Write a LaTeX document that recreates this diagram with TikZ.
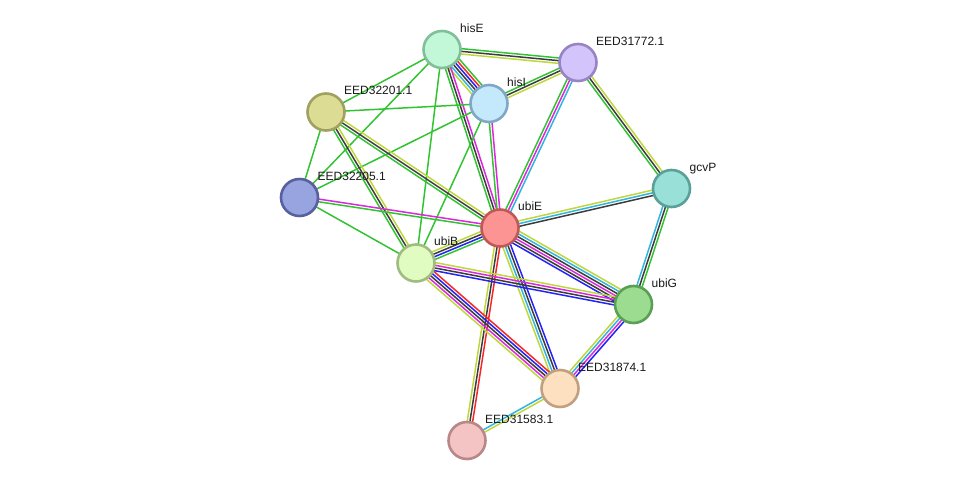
\documentclass[tikz,border=0pt]{standalone}
\usepackage{fontspec}
\setmainfont{Liberation Sans}
\usetikzlibrary{calc}
\pgfdeclarelayer{bg}
\pgfsetlayers{bg,main}
\definecolor{eG}{RGB}{50,195,50}
\definecolor{eR}{RGB}{245,40,40}
\definecolor{eB}{RGB}{35,35,245}
\definecolor{eK}{RGB}{60,60,60}
\definecolor{eM}{RGB}{220,40,220}
\definecolor{eC}{RGB}{50,180,225}
\definecolor{eY}{RGB}{190,215,60}
\definecolor{fHisE}{HTML}{C2F8D8}\definecolor{bHisE}{HTML}{80C098}
\definecolor{fE72}{HTML}{D4C4FC}\definecolor{bE72}{HTML}{9884C4}
\definecolor{fHisI}{HTML}{C4E8FC}\definecolor{bHisI}{HTML}{80A8C4}
\definecolor{fE01}{HTML}{DCDC94}\definecolor{bE01}{HTML}{A0A060}
\definecolor{fGcvP}{HTML}{98E0D8}\definecolor{bGcvP}{HTML}{58A098}
\definecolor{fE05}{HTML}{98A4E0}\definecolor{bE05}{HTML}{5860A0}
\definecolor{fUbiE}{HTML}{FC9494}\definecolor{bUbiE}{HTML}{C05858}
\definecolor{fUbiB}{HTML}{E0FCC0}\definecolor{bUbiB}{HTML}{A0BC80}
\definecolor{fUbiG}{HTML}{9CDC90}\definecolor{bUbiG}{HTML}{5AA054}
\definecolor{fE74}{HTML}{FCE0C0}\definecolor{bE74}{HTML}{C0A080}
\definecolor{fE83}{HTML}{F4C4C4}\definecolor{bE83}{HTML}{B88888}
\tikzset{
  prot/.style={circle, minimum size=37pt, inner sep=0pt, line width=2.6pt},
  lbl/.style={anchor=base west, inner sep=0pt, font=\fontsize{12}{14}\selectfont, text=black!90},
  edgeline/.style={line width=1.5pt}
}
\newcommand{\stredge}[4]{%
  \begin{pgfonlayer}{bg}
  \foreach \cc [count=\ii] in {#4} {
    \pgfmathsetmacro{\off}{((#3+1)/2-\ii)*2.7}
    \draw[edgeline, draw=\cc] ($(#1.center)!\off pt!90:(#2.center)$) -- ($(#2.center)!\off pt!-90:(#1.center)$);
  }
  \end{pgfonlayer}
}
\begin{document}
\begin{tikzpicture}[x=1pt,y=-1pt]
\useasboundingbox (0,0) rectangle (976,486);
% nodes
\node[prot, fill=fHisE, draw=bHisE] (hisE) at (442,49.5) {};
\node[prot, fill=fE72, draw=bE72] (e72) at (578,62.5) {};
\node[prot, fill=fHisI, draw=bHisI] (hisI) at (489,103.5) {};
\node[prot, fill=fE01, draw=bE01] (e01) at (326,112) {};
\node[prot, fill=fGcvP, draw=bGcvP] (gcvP) at (671.5,188.5) {};
\node[prot, fill=fE05, draw=bE05] (e05) at (299.5,197.5) {};
\node[prot, fill=fUbiE, draw=bUbiE] (ubiE) at (500,228) {};
\node[prot, fill=fUbiB, draw=bUbiB] (ubiB) at (416,263) {};
\node[prot, fill=fUbiG, draw=bUbiG] (ubiG) at (633.5,304.5) {};
\node[prot, fill=fE74, draw=bE74] (e74) at (560,388.5) {};
\node[prot, fill=fE83, draw=bE83] (e83) at (467,440.5) {};
% labels
\node[lbl] (t-hisE) at ([shift={(18,-17)}]hisE.center) {hisE};
\node[lbl] (t-e72) at ([shift={(18,-17)}]e72.center) {EED31772.1};
\node[lbl] (t-hisI) at ([shift={(18,-17)}]hisI.center) {hisI};
\node[lbl] (t-e01) at ([shift={(18,-17)}]e01.center) {EED32201.1};
\node[lbl] (t-gcvP) at ([shift={(18,-17)}]gcvP.center) {gcvP};
\node[lbl] (t-e05) at ([shift={(18,-17)}]e05.center) {EED32205.1};
\node[lbl] (t-ubiE) at ([shift={(18,-17)}]ubiE.center) {ubiE};
\node[lbl] (t-ubiB) at ([shift={(18,-17)}]ubiB.center) {ubiB};
\node[lbl] (t-ubiG) at ([shift={(18,-17)}]ubiG.center) {ubiG};
\node[lbl] (t-e74) at ([shift={(18,-17)}]e74.center) {EED31874.1};
\node[lbl] (t-e83) at ([shift={(18,-17)}]e83.center) {EED31583.1};
% edges
\stredge{hisE}{e72}{3}{eG,eK,eY}
\stredge{hisE}{hisI}{6}{eG,eR,eB,eK,eC,eY}
\stredge{hisE}{ubiE}{3}{eM,eK,eG}
\stredge{hisE}{e01}{1}{eG}
\stredge{hisE}{e05}{1}{eG}
\stredge{hisE}{ubiB}{1}{eG}
\stredge{hisI}{e72}{3}{eG,eK,eY}
\stredge{hisI}{ubiE}{2}{eM,eG}
\stredge{hisI}{e01}{1}{eG}
\stredge{hisI}{e05}{1}{eG}
\stredge{hisI}{ubiB}{1}{eG}
\stredge{e72}{ubiE}{3}{eC,eM,eG}
\stredge{e72}{gcvP}{3}{eY,eK,eG}
\stredge{e01}{e05}{1}{eG}
\stredge{e01}{ubiE}{3}{eY,eK,eG}
\stredge{e01}{ubiB}{3}{eY,eK,eG}
\stredge{e05}{ubiE}{2}{eM,eG}
\stredge{e05}{ubiB}{1}{eG}
\stredge{ubiE}{gcvP}{3}{eY,eC,eK}
\stredge{ubiE}{ubiB}{4}{eG,eB,eK,eY}
\stredge{ubiE}{ubiG}{6}{eY,eC,eK,eM,eK,eB}
\stredge{ubiE}{e74}{4}{eB,eK,eC,eY}
\stredge{ubiE}{e83}{3}{eR,eK,eY}
\stredge{ubiB}{ubiG}{4}{eY,eM,eK,eB}
\stredge{ubiB}{e74}{5}{eR,eB,eK,eM,eY}
\stredge{gcvP}{ubiG}{3}{eG,eK,eC}
\stredge{ubiG}{e74}{4}{eB,eM,eC,eY}
\stredge{e74}{e83}{2}{eY,eC}
\end{tikzpicture}
\end{document}
